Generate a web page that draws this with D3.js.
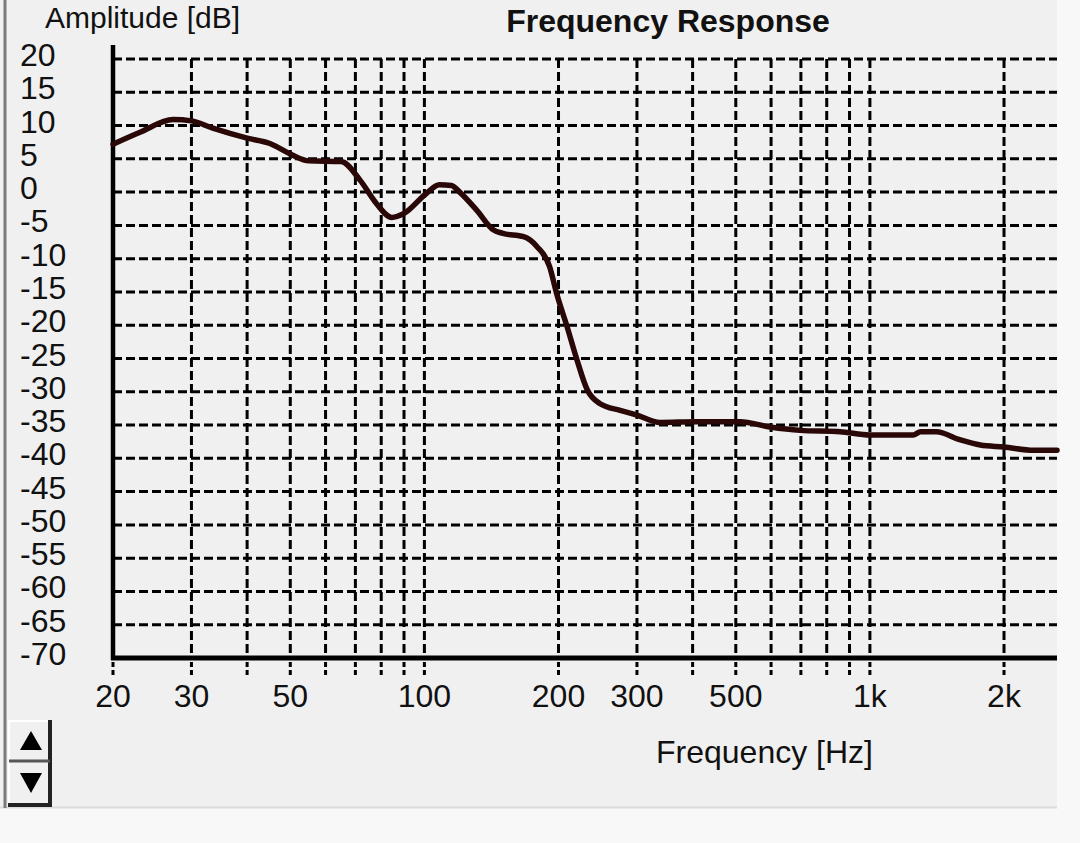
<!DOCTYPE html>
<html>
<head>
<meta charset="utf-8">
<script src="https://cdn.jsdelivr.net/npm/d3@7"></script>
<style>
  html, body { margin: 0; padding: 0; background: #f8f8f8; }
  svg { display: block; }
  text { font-family: "Liberation Sans", Arial, sans-serif; fill: #111; }
</style>
</head>
<body>
<svg id="chart" width="1080" height="843"></svg>
<script>
// ---- data ----
const freqs = [20, 23, 27.3, 30, 33.5, 40, 45, 50.4, 55, 65, 71.7, 78, 84.5, 90, 101, 108, 115, 120, 131, 143, 150, 167, 179, 191, 198, 209, 220, 232, 248, 275, 300, 338, 408, 511, 597, 697, 857, 1000, 1250, 1300, 1410, 1590, 1770, 2000, 2330, 2630];
const amps  = [7.2, 9.0, 10.9, 10.7, 9.6, 8.1, 7.3, 5.6, 4.7, 4.6, 1.8, -1.7, -3.8, -3.2, -0.2, 1.1, 1.0, 0.0, -2.7, -5.7, -6.2, -6.7, -8.2, -11.2, -15.2, -20.2, -25.2, -29.7, -31.8, -32.8, -33.5, -34.6, -34.5, -34.5, -35.3, -35.8, -36.0, -36.5, -36.5, -36.0, -36.0, -37.2, -38.0, -38.3, -38.8, -38.8];
const gridFreqs = [30, 40, 50, 60, 70, 80, 90, 100, 200, 300, 400, 500, 600, 700, 800, 900, 1000, 2000];
const tickFreqs = [20, 30, 40, 50, 60, 70, 80, 90, 100, 200, 300, 400, 500, 600, 700, 800, 900, 1000, 2000];
const xLabelFreqs = [20, 30, 50, 100, 200, 300, 500, 1000, 2000];
const xLabelTexts = ["20", "30", "50", "100", "200", "300", "500", "1k", "2k"];
const yTicks = [20, 15, 10, 5, 0, -5, -10, -15, -20, -25, -30, -35, -40, -45, -50, -55, -60, -65, -70];
const chartTitle = "Frequency Response";
const xTitle = "Frequency [Hz]";
const yTitle = "Amplitude [dB]";

// ---- layout ----
const svg = d3.select("#chart");
const pLeft = 113, pRight = 1057, pTop = 59, pBottom = 658;
const x = d3.scaleLog().domain([20, 2630]).range([pLeft, pRight]);
const y = d3.scaleLinear().domain([-70, 20]).range([pBottom, pTop]);

// panel background
svg.append("rect").attr("x", 0).attr("y", 0).attr("width", 1057).attr("height", 807).attr("fill", "#f0f0f0");
svg.append("line").attr("x1", 0).attr("x2", 1057).attr("y1", 807.5).attr("y2", 807.5).attr("stroke", "#dcdcdc").attr("stroke-width", 2);
svg.append("line").attr("x1", 5).attr("x2", 5).attr("y1", 0).attr("y2", 808).attr("stroke", "#7a7a7a").attr("stroke-width", 3);

// grid
const grid = svg.append("g").attr("stroke", "#000").attr("stroke-width", 3).attr("stroke-dasharray", "9,4").attr("fill", "none");
grid.selectAll("line.h").data(yTicks.filter(d => d > -70)).join("line")
  .attr("class", "h")
  .attr("x1", pLeft).attr("x2", pRight)
  .attr("y1", d => y(d)).attr("y2", d => y(d));
grid.selectAll("line.v").data(gridFreqs).join("line")
  .attr("class", "v")
  .attr("x1", d => x(d)).attr("x2", d => x(d))
  .attr("y1", pTop).attr("y2", pBottom);

// ticks under x axis
svg.append("g").attr("stroke", "#000").attr("stroke-width", 3).attr("stroke-dasharray", "5,3")
  .selectAll("line").data(tickFreqs).join("line")
  .attr("x1", d => x(d)).attr("x2", d => x(d))
  .attr("y1", pBottom + 4).attr("y2", pBottom + 18);

// axes lines
svg.append("line").attr("x1", pLeft).attr("x2", pLeft).attr("y1", 45).attr("y2", pBottom + 2)
  .attr("stroke", "#000").attr("stroke-width", 4.5);
svg.append("line").attr("x1", pLeft - 2).attr("x2", pRight).attr("y1", pBottom).attr("y2", pBottom)
  .attr("stroke", "#000").attr("stroke-width", 5);

// curve
const line = d3.line().x((d, i) => x(freqs[i])).y(d => y(d)).curve(d3.curveMonotoneX);
svg.append("path").datum(amps).attr("d", line)
  .attr("fill", "none").attr("stroke", "#2a0808").attr("stroke-width", 5.5)
  .attr("stroke-linejoin", "round").attr("stroke-linecap", "round");

// y labels
svg.append("g").selectAll("text").data(yTicks).join("text")
  .attr("x", 20).attr("y", d => y(d) + 7)
  .attr("font-size", 32).attr("text-anchor", "start")
  .text(d => d);

// x labels
svg.append("g").selectAll("text").data(xLabelFreqs).join("text")
  .attr("x", d => x(d)).attr("y", 707)
  .attr("font-size", 32).attr("text-anchor", "middle")
  .text((d, i) => xLabelTexts[i]);

// titles
svg.append("text").attr("x", 668).attr("y", 32).attr("text-anchor", "middle")
  .attr("font-size", 32).attr("font-weight", "bold").text(chartTitle);
svg.append("text").attr("x", 656).attr("y", 763).attr("font-size", 32).text(xTitle);
svg.append("text").attr("x", 45).attr("y", 28).attr("font-size", 30).text(yTitle);

// spin buttons
const sb = svg.append("g");
sb.append("rect").attr("x", 9).attr("y", 721).attr("width", 42).attr("height", 84).attr("fill", "#f0f0f0")
  .attr("stroke", "none");
sb.append("path").attr("d", "M9,805 L9,721 L51,721").attr("fill", "none").attr("stroke", "#ffffff").attr("stroke-width", 2);
sb.append("path").attr("d", "M50,720 L50,805 L8,805").attr("fill", "none").attr("stroke", "#222").attr("stroke-width", 4);
sb.append("line").attr("x1", 9).attr("x2", 50).attr("y1", 761).attr("y2", 761).attr("stroke", "#555").attr("stroke-width", 3);
sb.append("path").attr("d", "M20,750 L31,731 L42,750 Z").attr("fill", "#000");
sb.append("path").attr("d", "M20,773 L42,773 L31,793 Z").attr("fill", "#000");
</script>
</body>
</html>
